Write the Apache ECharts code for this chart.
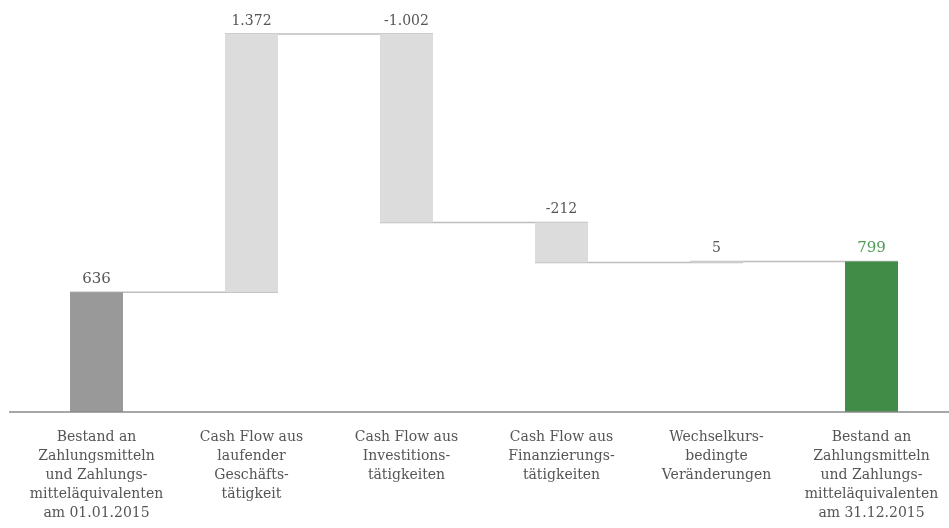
<!DOCTYPE html>
<html>
<head>
<meta charset="utf-8">
<script src="https://cdn.jsdelivr.net/npm/echarts@6/dist/echarts.min.js"></script>
<style>
  html, body { margin: 0; padding: 0; background: #fff; }
  #chart { width: 949px; height: 528px; }
</style>
</head>
<body>
<div id="chart"></div>
<script>
// Kapitalflussrechnung 2015 als Wasserfall (Mio. EUR)
const categories = [
  'Bestand an\nZahlungsmitteln\nund Zahlungs-\nmitteläquivalenten\nam 01.01.2015',
  'Cash Flow aus\nlaufender\nGeschäfts-\ntätigkeit',
  'Cash Flow aus\nInvestitions-\ntätigkeiten',
  'Cash Flow aus\nFinanzierungs-\ntätigkeiten',
  'Wechselkurs-\nbedingte\nVeränderungen',
  'Bestand an\nZahlungsmitteln\nund Zahlungs-\nmitteläquivalenten\nam 31.12.2015'
];
const amounts = [636, 1372, -1002, -212, 5, 799];
const isTotal = [true, false, false, false, false, true];

const colorStart = '#999999';
const colorDelta = '#dcdcdc';
const colorEnd = '#418c47';
const textColor = '#555555';
const fontFamily = '"DejaVu Serif", "Liberation Serif", serif';

// Build invisible base + visible segment for each step
const base = [];
const visible = [];
const levels = [];   // running level after each step
let level = 0;
amounts.forEach((v, i) => {
  if (isTotal[i]) {
    base.push(0);
    visible.push(v);
    level = v;
  } else {
    const next = level + v;
    base.push(Math.min(level, next));
    visible.push(Math.abs(v));
    level = next;
  }
  levels.push(level);
});

function fmt(v) {
  const s = Math.abs(v).toString().replace(/\B(?=(\d{3})+(?!\d))/g, '.');
  return (v < 0 ? '-' : '') + s;
}

const barWidth = 53;

const chart = echarts.init(document.getElementById('chart'));
chart.setOption({
  animation: false,
  grid: { left: 19, top: 34, width: 936, bottom: 116, containLabel: false },
  xAxis: {
    type: 'category',
    data: categories,
    axisTick: { show: false },
    axisLine: { show: false },
    axisLabel: {
      interval: 0,
      margin: 16,
      color: textColor,
      fontFamily: fontFamily,
      fontSize: 14,
      lineHeight: 19,
      align: 'center'
    }
  },
  yAxis: {
    type: 'value',
    min: 0,
    max: 'dataMax',
    show: false,
    splitLine: { show: false }
  },
  series: [
    {
      type: 'bar',
      stack: 'w',
      barWidth: barWidth,
      itemStyle: { color: 'transparent' },
      emphasis: { disabled: true },
      data: base
    },
    {
      type: 'bar',
      stack: 'w',
      barWidth: barWidth,
      data: visible.map((v, i) => ({
        value: v,
        itemStyle: { color: i === 0 ? colorStart : (i === amounts.length - 1 ? colorEnd : colorDelta) },
        label: {
          show: true,
          position: 'top',
          distance: 6,
          formatter: fmt(amounts[i]),
          color: i === amounts.length - 1 ? '#4f9a55' : textColor,
          fontFamily: fontFamily,
          fontSize: i === 0 || i === amounts.length - 1 ? 15 : 14
        }
      }))
    },
    {
      // Verbindungslinien zwischen den Stufen
      type: 'custom',
      z: 1,
      data: levels.slice(0, -1).map((lv, i) => [i, lv]),
      renderItem: function (params, api) {
        const i = api.value(0);
        const lv = api.value(1);
        const p1 = api.coord([i, lv]);
        const p2 = api.coord([i + 1, lv]);
        return {
          type: 'line',
          shape: { x1: p1[0] - barWidth / 2, y1: p1[1], x2: p2[0] + barWidth / 2, y2: p2[1] },
          style: { stroke: '#bdbdbd', lineWidth: 1.5 }
        };
      }
    }
  ]
});

// Grundlinie über die volle Breite
const y0 = chart.convertToPixel({ yAxisIndex: 0 }, 0);
chart.setOption({
  graphic: [{
    type: 'line',
    z: 10,
    shape: { x1: 9, y1: y0, x2: 949, y2: y0 },
    style: { stroke: '#8a8a8a', lineWidth: 1.5 }
  }]
});
</script>
</body>
</html>
